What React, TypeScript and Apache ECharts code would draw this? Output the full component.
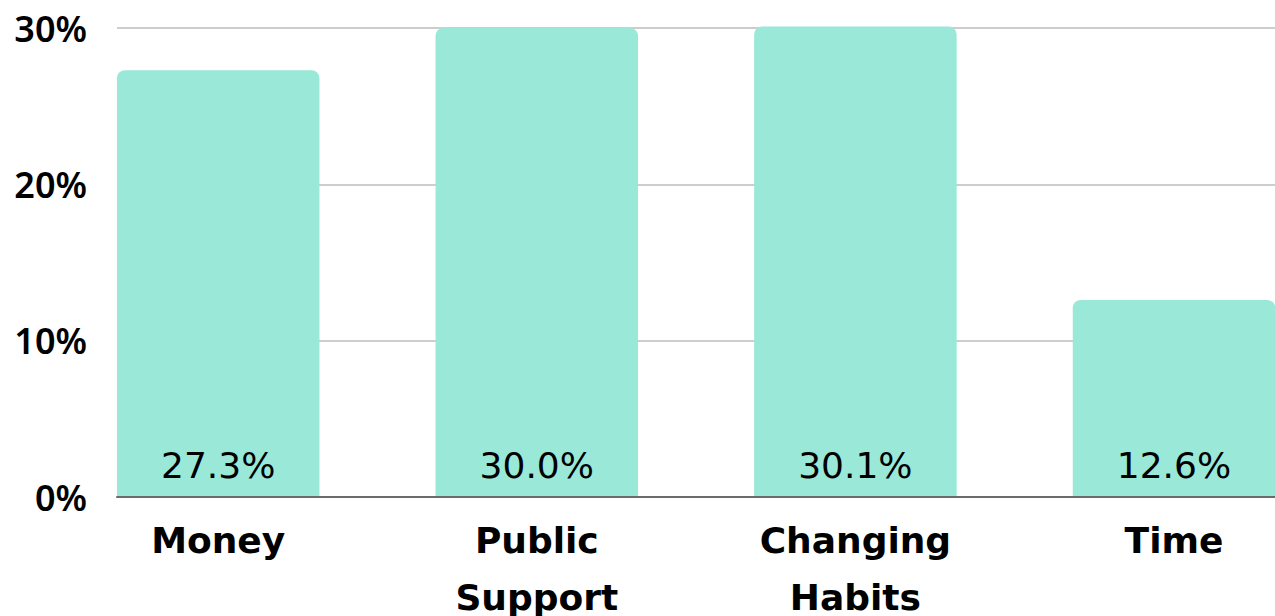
import React, { useEffect, useRef } from "react";
import * as echarts from "echarts";

const categories = ["Money", "Public Support", "Changing Habits", "Time"];
const values = [27.3, 30.0, 30.1, 12.6];
const yTicks = { min: 0, max: 30, interval: 10 };

export default function App() {
  const ref = useRef<HTMLDivElement>(null);
  useEffect(() => {
    if (!ref.current) return;
    const chart = echarts.init(ref.current, null, { renderer: "svg" });
    chart.setOption({
      animation: false,
      grid: [
        { left: 117, right: 0, top: 28, bottom: 119, containLabel: false, outerBoundsMode: "none" },
        { left: 58.9, width: 1274.4, top: 28, bottom: 119, containLabel: false, outerBoundsMode: "none" },
      ],
      xAxis: [
        {
          gridIndex: 0,
          type: "category",
          data: categories,
          z: 5,
          axisLine: { show: true, lineStyle: { color: "#6b6b6b", width: 2 } },
          axisTick: { show: false },
          axisLabel: { show: false },
          splitLine: { show: false },
        },
        {
          gridIndex: 1,
          type: "category",
          data: categories,
          axisLine: { show: false },
          axisTick: { show: false },
          axisLabel: {
            interval: 0,
            margin: 15,
            color: "#000",
            fontFamily: "DejaVu Sans",
            fontWeight: "bold",
            fontSize: 36,
            lineHeight: 57,
            formatter: (v: string) => v.replace(" ", "\n"),
          },
        },
      ],
      yAxis: [
        {
          gridIndex: 0,
          type: "value",
          min: yTicks.min,
          max: yTicks.max,
          interval: yTicks.interval,
          axisLine: { show: false },
          axisTick: { show: false },
          axisLabel: {
            margin: 30,
            color: "#000",
            fontFamily: "Noto Sans",
            fontWeight: 600,
            fontSize: 36,
            formatter: (v: number) => v + "%",
          },
          splitLine: { lineStyle: { color: "#bdbdbd", width: 1.5 } },
        },
        {
          gridIndex: 1,
          type: "value",
          min: yTicks.min,
          max: yTicks.max,
          show: false,
          splitLine: { show: false },
        },
      ],
      series: [
        {
          type: "bar",
          xAxisIndex: 1,
          yAxisIndex: 1,
          data: values,
          barWidth: 202.5,
          clip: false,
          itemStyle: { color: "#99e8d8", borderRadius: [8, 8, 0, 0] },
          label: {
            show: true,
            position: "insideBottom",
            distance: 14,
            color: "#000",
            fontFamily: "DejaVu Sans",
            fontWeight: "normal",
            fontSize: 36,
            formatter: (p: any) => Number(p.value).toFixed(1) + "%",
          },
        },
      ],
    });
    return () => chart.dispose();
  }, []);
  return (
    <div
      ref={ref}
      style={{ position: "absolute", left: 0, top: 0, width: 1275, height: 616 }}
    />
  );
}
